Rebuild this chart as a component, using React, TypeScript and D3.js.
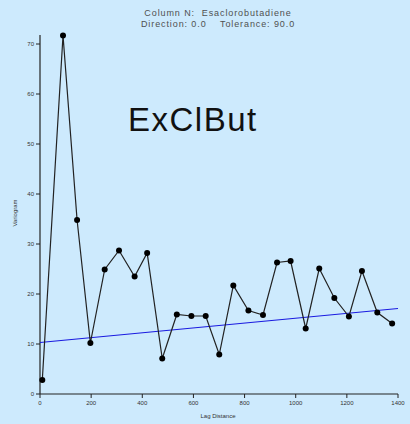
import React from "react";
import * as d3 from "d3";

const lagX = [9, 90, 145, 197, 253, 309, 370, 419, 478, 535, 592, 648, 701, 756, 815, 872, 927, 980, 1039, 1092, 1151, 1208, 1259, 1319, 1377];
const variogramY = [2.8, 71.7, 34.8, 10.2, 24.9, 28.7, 23.5, 28.2, 7.1, 15.9, 15.6, 15.6, 7.9, 21.7, 16.7, 15.8, 26.3, 26.6, 13.1, 25.1, 19.2, 15.5, 24.6, 16.3, 14.1];
const modelX = [0, 1400];
const modelY = [10.3, 17.1];
const xTicks = [0, 200, 400, 600, 800, 1000, 1200, 1400];
const yTicks = [0, 10, 20, 30, 40, 50, 60, 70];
const titleLines = ["Column N:  Esaclorobutadiene", "Direction: 0.0    Tolerance: 90.0"];
const bigLabel = "ExClBut";

export default function App() {
  const W = 410, H = 424;
  const x = d3.scaleLinear().domain([0, 1400]).range([40, 398]);
  const y = d3.scaleLinear().domain([0, 70]).range([394, 44]);
  const line = d3.line<number>().x((_, i) => x(lagX[i])).y((d) => y(d));
  const model = d3.line<number>().x((_, i) => x(modelX[i])).y((d) => y(d));
  const font = "Liberation Sans, Arial, sans-serif";
  return (
    <svg width={W} height={H} style={{ position: "absolute", left: 0, top: 0 }} fontFamily={font}>
      <rect x={0} y={0} width={W} height={H} fill="#cdeafd" />
      {titleLines.map((t, i) => (
        <text key={i} x={218} y={16 + i * 11} textAnchor="middle" fontSize={9} fill="#505050" letterSpacing={0.9} style={{ whiteSpace: "pre" }}>{t}</text>
      ))}
      <text x={128} y={131} fontSize={33} fill="#111" letterSpacing={1.5}>{bigLabel}</text>
      <line x1={x(0)} x2={x(0)} y1={35} y2={y(0)} stroke="#222" strokeWidth={1.2} />
      <line x1={x(0)} x2={x(1400)} y1={y(0)} y2={y(0)} stroke="#222" strokeWidth={1.2} />
      {yTicks.map((t) => (
        <g key={t}>
          <line x1={x(0) - 4} x2={x(0)} y1={y(t)} y2={y(t)} stroke="#222" strokeWidth={1} />
          <text x={x(0) - 6} y={y(t) + 2} textAnchor="end" fontSize={6} fill="#333">{t}</text>
        </g>
      ))}
      {xTicks.map((t) => (
        <g key={t}>
          <line x1={x(t)} x2={x(t)} y1={y(0)} y2={y(0) + 4} stroke="#222" strokeWidth={1} />
          <text x={x(t)} y={y(0) + 11} textAnchor="middle" fontSize={6} fill="#333">{t}</text>
        </g>
      ))}
      <text x={218} y={418} textAnchor="middle" fontSize={6} fill="#333">Lag Distance</text>
      <text transform="translate(17,213) rotate(-90)" textAnchor="middle" fontSize={6} fill="#333">Variogram</text>
      <path d={model(modelY) || ""} fill="none" stroke="#1a1ae0" strokeWidth={1.2} />
      <path d={line(variogramY) || ""} fill="none" stroke="#222" strokeWidth={1.2} />
      {variogramY.map((v, i) => (
        <circle key={i} cx={x(lagX[i])} cy={y(v)} r={3} fill="#000" />
      ))}
    </svg>
  );
}
